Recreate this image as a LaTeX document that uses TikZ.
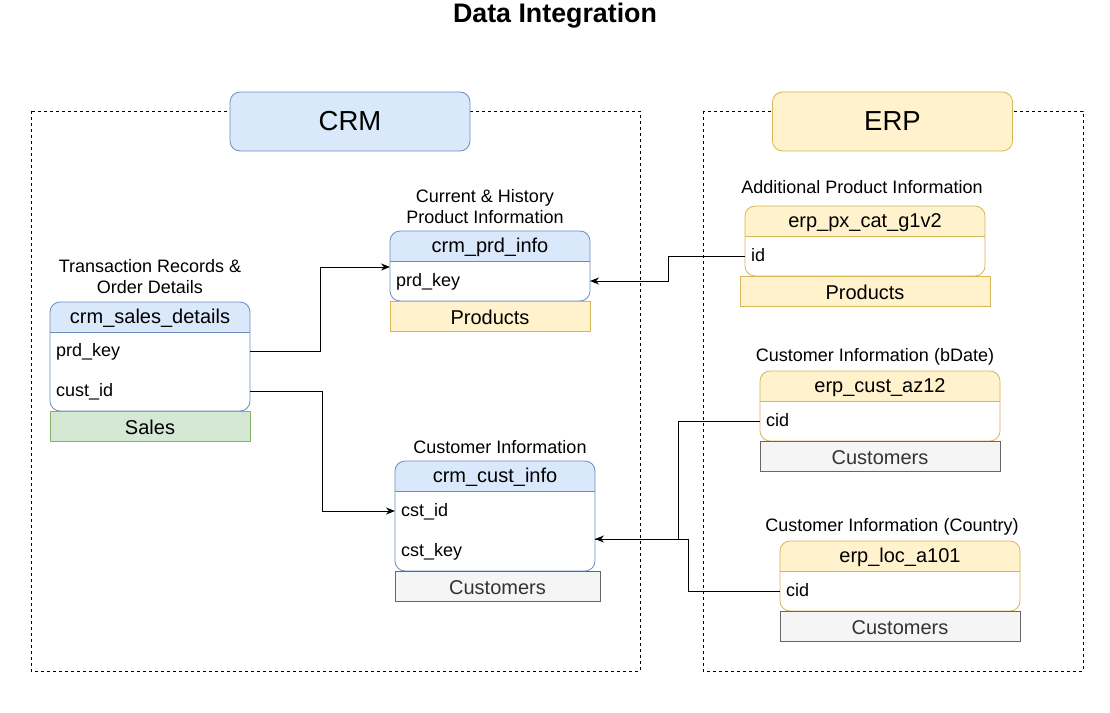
\documentclass[tikz,border=0pt]{standalone}
\usepackage{fontspec}
\setmainfont{Liberation Sans}
\usetikzlibrary{arrows.meta}
\definecolor{bluefill}{HTML}{DAE8FC}
\definecolor{bluestroke}{HTML}{6C8EBF}
\definecolor{yelfill}{HTML}{FFF2CC}
\definecolor{yelstroke}{HTML}{D6B656}
\definecolor{grnfill}{HTML}{D5E8D4}
\definecolor{grnstroke}{HTML}{82B366}
\definecolor{gryfill}{HTML}{F5F5F5}
\definecolor{grystroke}{HTML}{666666}
\definecolor{grytext}{HTML}{333333}
\tikzset{
  lbl/.style={align=center, font=\fontsize{18}{21.5}\selectfont, inner sep=0pt, yshift=-1pt},
  hdr/.style={font=\fontsize{20}{24}\selectfont, inner sep=0pt, yshift=-1.5pt},
  rowtxt/.style={anchor=west, font=\fontsize{18}{21}\selectfont, inner sep=0pt, text height=12.5pt, text depth=1pt},
  footer/.style={rectangle, line width=0.8pt, minimum height=30pt, inner sep=0pt, text height=16pt, text depth=0pt, font=\fontsize{20}{24}\selectfont},
  groupbox/.style={draw=black, line width=0.8pt, dashed},
  grouplbl/.style={rectangle, rounded corners=10pt, line width=0.8pt, minimum width=240pt, minimum height=59pt, inner sep=0pt, font=\fontsize{27.5}{32}\selectfont},
  conn/.style={draw=black, line width=1pt, -{Stealth[length=9pt,width=7pt]}},
  connplain/.style={draw=black, line width=1pt},
}
% #1 name, #2 x1, #3 y1, #4 x2, #5 y2, #6 fill, #7 stroke, #8 title
\newcommand{\erdtable}[8]{%
  \node[rectangle, rounded corners=10pt, fill=white, line width=0.8pt, inner sep=0pt, outer sep=0pt,
        minimum width={#4-#2}, minimum height={#5-#3}] (#1) at ({(#2+#4)/2},{(#3+#5)/2}) {};
  \begin{scope}
    \clip (#2,#3) rectangle (#4,{#3+30});
    \fill[#6, rounded corners=10pt] (#1.north west) rectangle (#1.south east);
  \end{scope}
  \draw[#7, line width=0.8pt] (#2,{#3+30}) -- (#4,{#3+30});
  \draw[#7, line width=0.8pt, rounded corners=10pt] (#1.north west) rectangle (#1.south east);
  \node[hdr] (#1-t) at ({(#2+#4)/2},{#3+15}) {#8};
}
\begin{document}
\begin{tikzpicture}[x=1pt, y=-1pt]
\useasboundingbox (0,0) rectangle (1110,712);

% title
\node[font=\bfseries\fontsize{26.8}{30}\selectfont, inner sep=0pt] (title) at (555,16) {Data Integration};

% group boxes
\draw[groupbox] (31,111) rectangle (640,671);
\draw[groupbox] (703,111) rectangle (1083,671);
\node[grouplbl, fill=bluefill, draw=bluestroke] (crm) at (350,121.5) {CRM};
\node[grouplbl, fill=yelfill, draw=yelstroke] (erp) at (892.5,121.5) {ERP};

% crm_sales_details
\node[lbl] (sd-l) at (150,275.5) {Transaction Records \&\\Order Details};
\erdtable{sd}{50}{302}{250}{411}{bluefill}{bluestroke}{crm\_sales\_details}
\node[rowtxt] (sd-prd) at (56,351) {prd\_key};
\node[rowtxt] (sd-cust) at (56,391) {cust\_id};
\node[footer, fill=grnfill, draw=grnstroke, minimum width=200pt] (sd-f) at (150,426) {Sales};

% crm_prd_info
\node[lbl] (pi-l) at (485,205.5) {Current \& History\\Product Information};
\erdtable{pi}{390}{231}{590}{301}{bluefill}{bluestroke}{crm\_prd\_info}
\node[rowtxt] (pi-prd) at (396,281) {prd\_key};
\node[footer, fill=yelfill, draw=yelstroke, minimum width=200pt] (pi-f) at (490,316) {Products};

% crm_cust_info
\node[lbl] (ci-l) at (500,446) {Customer Information};
\erdtable{ci}{395}{461}{595}{571}{bluefill}{bluestroke}{crm\_cust\_info}
\node[rowtxt] (ci-id) at (401,511) {cst\_id};
\node[rowtxt] (ci-key) at (401,551) {cst\_key};
\node[footer, fill=gryfill, draw=grystroke, text=grytext, minimum width=205pt] (ci-f) at (497.5,586) {Customers};

% erp_px_cat_g1v2
\node[lbl] (px-l) at (862,186) {Additional Product Information};
\erdtable{px}{745}{206}{985}{276}{yelfill}{yelstroke}{erp\_px\_cat\_g1v2}
\node[rowtxt] (px-id) at (751,256) {id};
\node[footer, fill=yelfill, draw=yelstroke, minimum width=250pt] (px-f) at (865,291) {Products};

% erp_cust_az12
\node[lbl] (az-l) at (875,356) {Customer Information (bDate)};
\erdtable{az}{760}{371}{1000}{441}{yelfill}{yelstroke}{erp\_cust\_az12}
\node[rowtxt] (az-cid) at (766,421) {cid};
\node[footer, fill=gryfill, draw=grystroke, text=grytext, minimum width=240pt] (az-f) at (880,456) {Customers};

% erp_loc_a101
\node[lbl] (lc-l) at (892,526) {Customer Information (Country)};
\erdtable{lc}{780}{541}{1020}{611}{yelfill}{yelstroke}{erp\_loc\_a101}
\node[rowtxt] (lc-cid) at (786,591) {cid};
\node[footer, fill=gryfill, draw=grystroke, text=grytext, minimum width=240pt] (lc-f) at (900,626) {Customers};

% connectors
\coordinate (pi-in) at (390,267);
\coordinate (ci-in) at (595,539);
\draw[conn] (sd-prd -| sd.east) -- ++(70,0) |- (pi-in);
\draw[conn] (sd-cust -| sd.east) -- ++(72,0) |- (ci-id -| ci.west);
\draw[conn] (px-id -| px.west) -- ++(-77,0) |- (pi-prd -| pi.east);
\draw[conn] (az-cid -| az.west) -- ++(-82,0) |- (ci-in);
\draw[connplain] (lc-cid -| lc.west) -- ++(-92,0) |- (ci-in);
\end{tikzpicture}
\end{document}
